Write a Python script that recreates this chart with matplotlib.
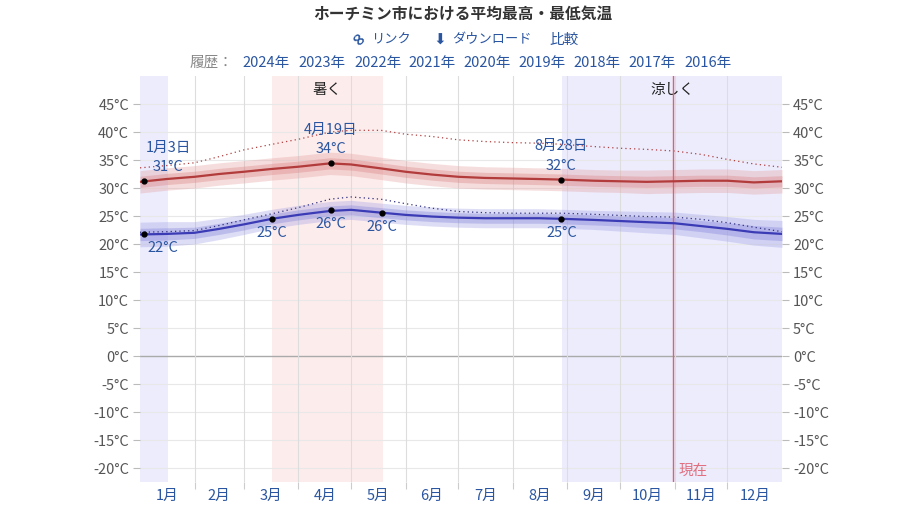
import numpy as np
import matplotlib.pyplot as plt

plt.rcParams['font.family'] = ['Noto Sans CJK JP', 'DejaVu Sans']

# 日付（年初からの日数）と各系列の値
dias = [0, 15, 31, 45, 59, 75, 90, 108, 120, 137, 151, 166, 181, 196, 212,
        227, 240, 258, 273, 288, 304, 319, 334, 349, 365]
maxima = [31.1, 31.6, 32.0, 32.5, 32.9, 33.4, 33.8, 34.4, 34.2, 33.5, 32.9, 32.4, 32.0,
          31.8, 31.7, 31.6, 31.5, 31.3, 31.2, 31.1, 31.2, 31.3, 31.3, 31.0, 31.2]
minima = [21.7, 21.8, 22.0, 22.7, 23.5, 24.5, 25.2, 25.9, 26.1, 25.6, 25.2, 24.9, 24.7,
          24.6, 24.6, 24.6, 24.5, 24.3, 24.1, 23.9, 23.7, 23.2, 22.7, 22.1, 21.8]
maxima_p90 = [33.6, 34.0, 34.5, 35.6, 36.8, 37.8, 38.7, 40.0, 40.3, 40.3, 39.6, 39.2, 38.6,
              38.3, 38.1, 38.0, 37.8, 37.4, 37.1, 36.9, 36.6, 36.0, 35.1, 34.3, 33.7]
minima_p90 = [22.1, 22.2, 22.4, 23.3, 24.3, 25.4, 26.5, 28.0, 28.4, 28.0, 27.2, 26.4, 25.8,
              25.6, 25.5, 25.5, 25.5, 25.3, 25.1, 24.9, 24.8, 24.4, 23.8, 23.0, 22.2]
# bandas (25-75 y 10-90 percentil) como desviación respecto a la media
max_int = [1.0, 1.0, 1.0, 1.0, 1.0, 1.0, 1.0, 1.0, 1.0, 1.0, 1.0, 1.0, 1.0,
           1.0, 1.0, 1.0, 1.0, 1.0, 1.0, 1.0, 1.0, 1.0, 1.0, 1.0, 1.0]
max_ext = [2.0, 2.0, 2.0, 2.0, 2.0, 2.0, 2.0, 2.0, 2.0, 2.0, 2.0, 2.0, 2.0,
           2.0, 2.0, 2.0, 2.0, 2.0, 2.0, 2.1, 2.1, 2.1, 2.1, 2.1, 2.1]
min_int = [1.1, 1.1, 1.0, 1.0, 1.0, 0.9, 0.9, 0.9, 0.9, 0.9, 0.9, 0.9, 0.9,
           0.9, 0.9, 0.9, 0.9, 0.9, 0.9, 1.0, 1.0, 1.0, 1.1, 1.2, 1.2]
min_ext = [2.2, 2.2, 2.0, 1.9, 1.8, 1.7, 1.7, 1.7, 1.7, 1.7, 1.7, 1.7, 1.7,
           1.7, 1.7, 1.7, 1.7, 1.7, 1.8, 1.9, 2.0, 2.1, 2.2, 2.3, 2.4]

# puntos destacados: (día, valor, fecha, texto)
punto_max = [(2.5, 31.2, '1月3日', '31°C'), (108.5, 34.4, '4月19日', '34°C'),
             (239.5, 31.5, '8月28日', '32°C')]
punto_min = [(2.5, 21.7, '22°C'), (75, 24.5, '25°C'), (108.5, 26.0, '26°C'),
             (137.5, 25.6, '26°C'), (239.5, 24.5, '25°C')]

meses = ['1月', '2月', '3月', '4月', '5月', '6月', '7月', '8月', '9月', '10月', '11月', '12月']
inicio_mes = [0, 31, 59, 90, 120, 151, 181, 212, 243, 273, 304, 334, 365]
anios = ['2024年', '2023年', '2022年', '2021年', '2020年', '2019年', '2018年', '2017年', '2016年']

temporada_calor = (75, 138)
temporada_fresca = [(0, 16), (240, 365)]
hoy = 303

AZUL_TXT = '#2a55a0'
FS = 10.5

fig = plt.figure(figsize=(8.98, 5.13), dpi=100)
ax = fig.add_axes([140 / 898, 1 - 482 / 513, 642 / 898, 406 / 513])

# temporadas
ax.axvspan(*temporada_calor, color='#fdecec', lw=0, zorder=0)
for a, b in temporada_fresca:
    ax.axvspan(a, b, color='#ececfd', lw=0, zorder=0)
ax.text(sum(temporada_calor) / 2, 47.5, '暑く', ha='center', va='center', fontsize=FS, color='#222')
ax.text(302.5, 47.5, '涼しく', ha='center', va='center', fontsize=FS, color='#222')

d = np.array(dias)
mx, mn = np.array(maxima), np.array(minima)
ax.fill_between(d, mx - np.array(max_ext), mx + np.array(max_ext), color='#e6a0a0', alpha=0.35, lw=0, zorder=2)
ax.fill_between(d, mx - np.array(max_int), mx + np.array(max_int), color='#d98080', alpha=0.35, lw=0, zorder=2)
ax.fill_between(d, mn - np.array(min_ext), mn + np.array(min_ext), color='#a0a0e6', alpha=0.35, lw=0, zorder=2)
ax.fill_between(d, mn - np.array(min_int), mn + np.array(min_int), color='#8080d9', alpha=0.35, lw=0, zorder=2)
ax.plot(d, maxima_p90, ls=(0, (1, 2.5)), color='#b04040', lw=0.9, zorder=3)
ax.plot(d, minima_p90, ls=(0, (1, 2.5)), color='#303080', lw=0.9, zorder=3)
ax.plot(d, mx, color='#b23b3b', lw=1.6, zorder=4)
ax.plot(d, mn, color='#3b3bb5', lw=1.6, zorder=4)

# hoy
ax.axvline(hoy, color='#e06070', lw=1, zorder=3)
ax.text(hoy + 3, -20.5, '現在', color='#e07080', fontsize=FS, ha='left', va='center')

for x, y, fecha, t in punto_max:
    ax.plot(x, y, 'o', color='black', ms=3.5, zorder=6)
    dx = 17 if x < 10 else 0
    ax.annotate(t, (x, y), xytext=(dx, 10), textcoords='offset points', ha='center',
                va='center', color=AZUL_TXT, fontsize=FS, zorder=7)
    ax.annotate(fecha, (x, y), xytext=(dx, 24), textcoords='offset points',
                ha='center', va='center', color=AZUL_TXT, fontsize=FS, zorder=7)
for x, y, t in punto_min:
    ax.plot(x, y, 'o', color='black', ms=3.5, zorder=6)
    dx = 13 if x < 10 else 0
    ax.annotate(t, (x, y), xytext=(dx, -10), textcoords='offset points', ha='center',
                va='center', color=AZUL_TXT, fontsize=FS, zorder=7)

ax.set_xlim(0, 365)
ax.set_ylim(-22.5, 50)
yt = list(range(-20, 50, 5))
ax.set_yticks(yt)
ax.set_yticklabels([f'{v}°C' for v in yt])
ax.tick_params(axis='y', left=True, right=True, labelleft=True, labelright=True,
               length=5, color='#bbb', labelcolor='#555', labelsize=FS, pad=3)
ax.set_xticks(inicio_mes[1:-1])
ax.set_xticklabels([])
ax.tick_params(axis='x', length=5, color='#ccc')
ax.set_xticks([(inicio_mes[i] + inicio_mes[i + 1]) / 2 for i in range(12)], minor=True)
ax.set_xticklabels(meses, minor=True)
ax.tick_params(axis='x', which='minor', length=0, labelcolor=AZUL_TXT, labelsize=FS, pad=5)

for v in yt:
    ax.axhline(v, color='#aaa' if v == 0 else '#e8e8e8', lw=1 if v == 0 else 0.8, zorder=1)
for m in inicio_mes[1:-1]:
    ax.axvline(m, color='#dddddd', lw=0.8, zorder=1)
for s in ax.spines.values():
    s.set_visible(False)

# encabezado
fig.text(463 / 898, 1 - 15 / 513, 'ホーチミン市における平均最高・最低気温', ha='center', va='center',
         fontsize=11.3, fontweight='bold', color='#333')
fig.text(357 / 898, 1 - 40 / 513, '∞', ha='center', va='center', fontsize=12,
         fontweight='bold', color=AZUL_TXT, rotation=-45, family='DejaVu Sans')
fig.text(371 / 898, 1 - 40 / 513, 'リンク', ha='left', va='center', fontsize=9.5, color=AZUL_TXT)
fig.text(440 / 898, 1 - 40 / 513, '⬇', ha='center', va='center', fontsize=11,
         color=AZUL_TXT, family='DejaVu Sans')
fig.text(452 / 898, 1 - 40 / 513, 'ダウンロード', ha='left', va='center', fontsize=9.5, color=AZUL_TXT)
fig.text(564 / 898, 1 - 40 / 513, '比較', ha='center', va='center', fontsize=FS, color=AZUL_TXT)
fig.text(212 / 898, 1 - 63 / 513, '履歴：', ha='center', va='center', fontsize=FS, color='#888')
pos_anios = [266, 322, 378, 432, 487, 542, 597, 652, 708]
for xa, t in zip(pos_anios, anios):
    fig.text(xa / 898, 1 - 63 / 513, t, ha='center', va='center', fontsize=FS, color=AZUL_TXT)

fig.savefig('out.png', dpi=100)
